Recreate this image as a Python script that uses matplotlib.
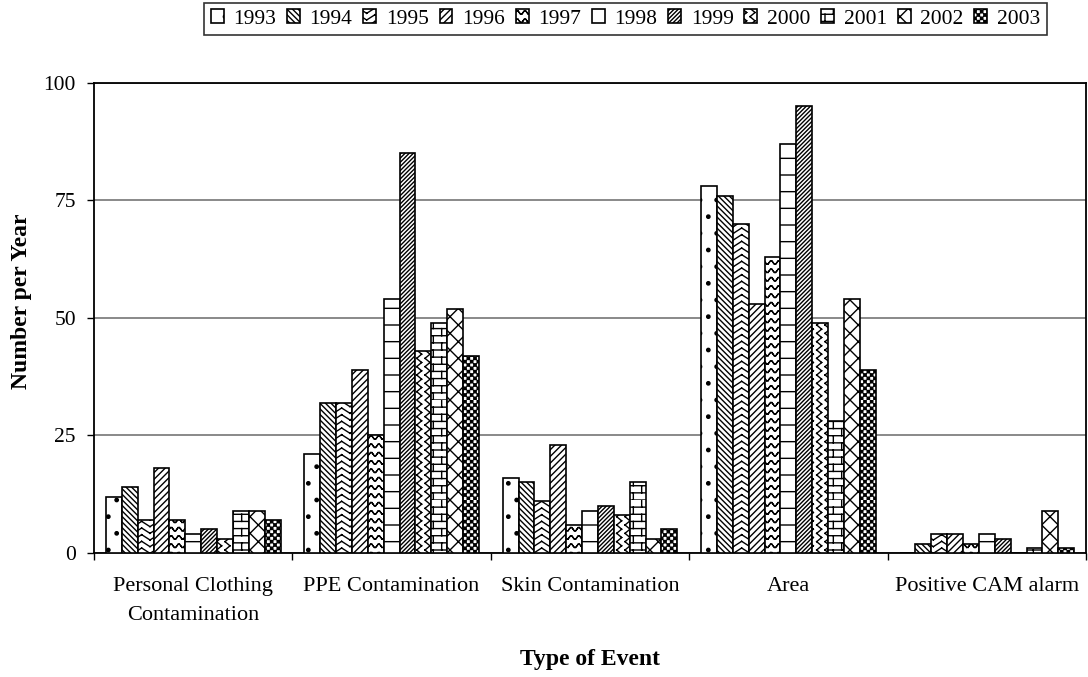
import warnings
import numpy as np
import matplotlib
matplotlib.use("Agg")
import matplotlib.pyplot as plt
from matplotlib import hatch as mhatch
from matplotlib.path import Path

warnings.filterwarnings("ignore")

categories = ["Personal Clothing\nContamination", "PPE Contamination",
              "Skin Contamination", "Area", "Positive CAM alarm"]
years = ["1993", "1994", "1995", "1996", "1997", "1998",
         "1999", "2000", "2001", "2002", "2003"]

counts_1993 = [12, 21, 16, 78, 0]
counts_1994 = [14, 32, 15, 76, 2]
counts_1995 = [7, 32, 11, 70, 4]
counts_1996 = [18, 39, 23, 53, 4]
counts_1997 = [7, 25, 6, 63, 2]
counts_1998 = [4, 54, 9, 87, 4]
counts_1999 = [5, 85, 10, 95, 3]
counts_2000 = [3, 43, 8, 49, 0]
counts_2001 = [9, 49, 15, 28, 1]
counts_2002 = [9, 52, 3, 54, 9]
counts_2003 = [7, 42, 5, 39, 1]

yearly = [counts_1993, counts_1994, counts_1995, counts_1996, counts_1997,
          counts_1998, counts_1999, counts_2000, counts_2001, counts_2002,
          counts_2003]


# extra fill patterns (zigzag, wave, brick, checker) on top of the stock hatches
class SegmentHatch(mhatch.HatchPatternBase):
    char = None

    def __init__(self, hatch, density):
        n = hatch.count(self.char)
        self.segments = self.build(n, density) if n else []
        self.num_vertices = 2 * len(self.segments)

    def set_vertices_and_codes(self, vertices, codes):
        vertices[:] = np.asarray(self.segments, dtype=float).reshape(-1, 2)
        codes[0::2] = Path.MOVETO
        codes[1::2] = Path.LINETO


class ZigZagHatch(SegmentHatch):
    char = "z"

    def build(self, n, density):
        rows = int(n * density * 1.25)
        teeth = 6
        amp = 0.8 / rows
        xs = np.linspace(0, 1, 2 * teeth + 1)
        segs = []
        for i in range(rows):
            ys = i / rows + amp * (np.arange(2 * teeth + 1) % 2)
            for k in range(2 * teeth):
                segs.append((xs[k], ys[k], xs[k + 1], ys[k + 1]))
        return segs


class VerticalZigZagHatch(SegmentHatch):
    char = "v"

    def build(self, n, density):
        cols = n * density * 2
        teeth = 12
        amp = 0.6 / cols
        ys = np.linspace(0, 1, 2 * teeth + 1)
        segs = []
        for i in range(cols):
            xs = i / cols + amp * (np.arange(2 * teeth + 1) % 2)
            for k in range(2 * teeth):
                segs.append((xs[k], ys[k], xs[k + 1], ys[k + 1]))
        return segs


class WaveHatch(SegmentHatch):
    char = "w"

    def build(self, n, density):
        rows = n * density * 2
        periods = 13
        amp = 0.22 / rows
        xs = np.linspace(0, 1, periods * 6 + 1)
        segs = []
        for i in range(rows):
            ys = (i + 0.5) / rows + amp * np.sin(2 * np.pi * periods * xs)
            for k in range(len(xs) - 1):
                segs.append((xs[k], ys[k], xs[k + 1], ys[k + 1]))
        return segs


class BrickHatch(SegmentHatch):
    char = "b"

    def build(self, n, density):
        rows = n * density * 2 + 2
        bricks = 6
        segs = []
        for i in range(rows):
            y0, y1 = i / rows, (i + 1) / rows
            segs.append((0, y0, 1, y0))
            shift = 0.5 * (i % 2)
            for j in range(bricks):
                x = (j + shift) / bricks
                segs.append((x, y0, x, y1))
        return segs


class CheckerHatch(mhatch.HatchPatternBase):
    def __init__(self, hatch, density):
        self.cells = hatch.count("c") * density * 5
        self.num_vertices = (self.cells ** 2 // 2) * 5

    def set_vertices_and_codes(self, vertices, codes):
        c = self.cells
        side = 0.7 / c
        k = 0
        for i in range(c):
            for j in range(c):
                if (i + j) % 2:
                    continue
                x = (i + 0.15) / c
                y = (j + 0.15) / c
                vertices[k:k + 5] = [(x, y), (x + side, y), (x + side, y + side),
                                     (x, y + side), (x, y)]
                codes[k:k + 5] = [Path.MOVETO, Path.LINETO, Path.LINETO,
                                  Path.LINETO, Path.CLOSEPOLY]
                k += 5


mhatch._hatch_types.extend([ZigZagHatch, VerticalZigZagHatch, WaveHatch,
                            BrickHatch, CheckerHatch])
mhatch._validate_hatch_pattern = lambda hatch: None

hatches = [".", "\\" * 6, "zz", "/" * 5, "w", "-",
           "/" * 8, "v", "b", "xx", "c"]

plt.rcParams["font.family"] = ["Liberation Serif", "DejaVu Serif"]
plt.rcParams["hatch.linewidth"] = 1.0

fig = plt.figure(figsize=(10.88, 6.77), dpi=100)
ax = fig.add_axes([0.0864, 0.1832, 0.9118, 0.6942])

x = np.arange(len(categories))
width = 0.08
for i, (year, vals) in enumerate(zip(years, yearly)):
    ax.bar(x + (i - 5) * width, vals, width, label=year,
           facecolor="white", edgecolor="black", linewidth=1.2,
           hatch=hatches[i], zorder=3)

ax.set_xlim(-0.5, len(categories) - 0.5)
ax.set_ylim(0, 100)
ax.set_yticks([0, 25, 50, 75, 100])
ax.yaxis.grid(True, color="#808080", linewidth=1.3)
ax.set_axisbelow(True)

# ticks between the groups, names under the group centres
ax.set_xticks(np.arange(len(categories) + 1) - 0.5)
ax.set_xticklabels([])
ax.set_xticks(x, minor=True)
ax.set_xticklabels(categories, minor=True, fontsize=16, linespacing=1.75)
ax.tick_params(axis="x", which="major", direction="out", length=5, width=1)
ax.tick_params(axis="x", which="minor", length=0, pad=17)
ax.tick_params(axis="y", direction="out", length=5, width=1, pad=8,
               labelsize=15.5)

for side in ax.spines.values():
    side.set_linewidth(1.3)
    side.set_color("black")

fig.text(22 / 1088, 1 - 301 / 677, "Number per Year", rotation=90,
         ha="center", va="center", fontsize=17, fontweight="bold")
fig.text(0.542, 1 - 660 / 677, "Type of Event", ha="center", va="center",
         fontsize=17, fontweight="bold")

leg = fig.legend(loc="upper right", bbox_to_anchor=(0.962, 0.996), ncol=11,
                 fontsize=15.5, frameon=True, fancybox=False,
                 handlelength=0.6, handleheight=0.6, handletextpad=0.45,
                 columnspacing=0.5, borderpad=0.3, borderaxespad=0)
leg.get_frame().set_edgecolor("black")
leg.get_frame().set_linewidth(1.2)

fig.savefig("out.png", dpi=100)
